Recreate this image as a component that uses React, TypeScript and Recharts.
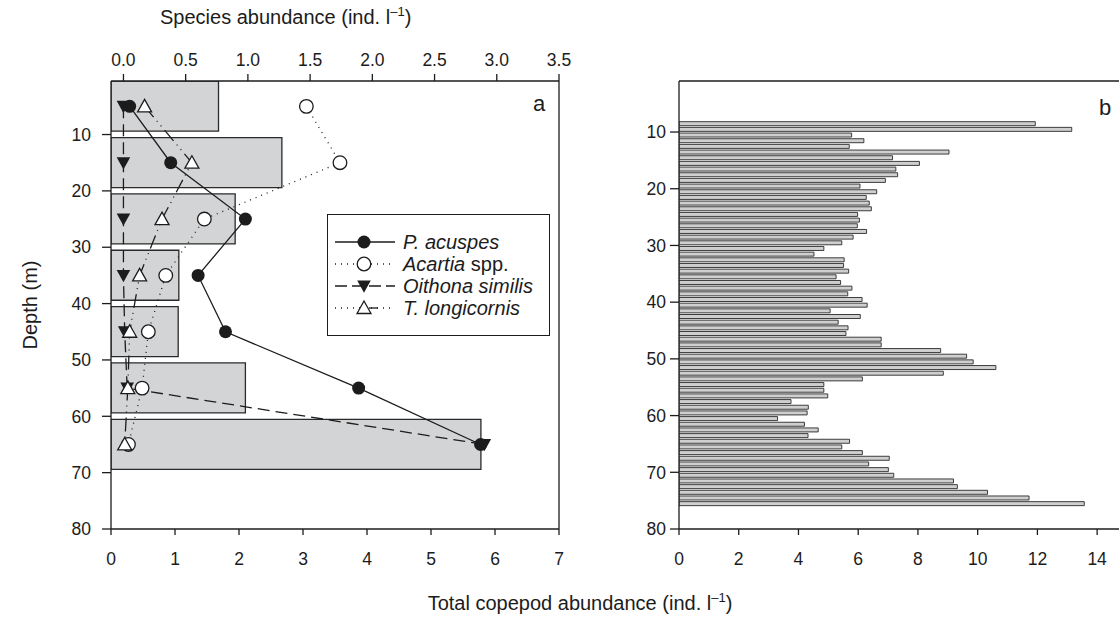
import React from "react";
import { Bar, ComposedChart, Line, ReferenceLine, XAxis, YAxis } from "recharts";

// panel a: 10 m depth bins
const binDepths = [5, 15, 25, 35, 45, 55, 65];
const totalByBin = [1.68, 2.67, 1.94, 1.06, 1.05, 2.1, 5.78];
const pAcuspes = [0.05, 0.38, 0.98, 0.6, 0.82, 1.89, 2.87];
const acartia = [1.47, 1.74, 0.65, 0.34, 0.2, 0.15, 0.04];
const oithona = [0.0, 0.0, 0.0, 0.0, 0.01, 0.03, 2.9];
const tLongicornis = [0.17, 0.55, 0.31, 0.13, 0.05, 0.035, 0.01];

// panel b: 1 m depth resolution
const fineDepths = [
  8.5, 9.5, 10.5, 11.5, 12.5, 13.5, 14.5, 15.5, 16.5, 17.5, 18.5, 19.5, 20.5, 21.5, 22.5, 23.5, 24.5,
  25.5, 26.5, 27.5, 28.5, 29.5, 30.5, 31.5, 32.5, 33.5, 34.5, 35.5, 36.5, 37.5, 38.5, 39.5, 40.5, 41.5,
  42.5, 43.5, 44.5, 45.5, 46.5, 47.5, 48.5, 49.5, 50.5, 51.5, 52.5, 53.5, 54.5, 55.5, 56.5, 57.5, 58.5,
  59.5, 60.5, 61.5, 62.5, 63.5, 64.5, 65.5, 66.5, 67.5, 68.5, 69.5, 70.5, 71.5, 72.5, 73.5, 74.5, 75.5,
];
const fineTotals = [
  11.93, 13.15, 5.78, 6.19, 5.7, 9.04, 7.15, 8.05, 7.26, 7.32, 6.91, 6.06, 6.62, 6.27, 6.37, 6.44, 5.98,
  6.04, 5.97, 6.28, 5.83, 5.45, 4.85, 4.52, 5.53, 5.51, 5.68, 5.26, 5.41, 5.79, 5.65, 6.13, 6.3, 5.06,
  6.07, 5.33, 5.66, 5.59, 6.77, 6.77, 8.76, 9.63, 9.85, 10.61, 8.85, 6.14, 4.85, 4.85, 4.98, 3.75, 4.33,
  4.29, 3.3, 4.2, 4.66, 4.32, 5.71, 5.45, 6.14, 7.04, 6.35, 7.01, 7.19, 9.19, 9.32, 10.33, 11.72, 13.57,
];

const depthTicks = [10, 20, 30, 40, 50, 60, 70, 80];
const speciesTicks = [0, 0.5, 1, 1.5, 2, 2.5, 3, 3.5];
const totalTicksA = [0, 1, 2, 3, 4, 5, 6, 7];
const totalTicksB = [0, 2, 4, 6, 8, 10, 12, 14];

const binData = binDepths.map((depth, i) => ({
  depth,
  total: totalByBin[i],
  pAcuspes: pAcuspes[i],
  acartia: acartia[i],
  oithona: oithona[i],
  tLongicornis: tLongicornis[i],
}));
const fineData = fineDepths.map((depth, i) => ({ depth, total: fineTotals[i] }));

const ink = "#1c1c1c";
const font = "'Liberation Sans', Arial, Helvetica, sans-serif";
const tickStyle = { fill: ink, fontSize: 17.5 };
const lineStyle = { stroke: ink, strokeWidth: 1.3 };

function FilledCircle({ cx, cy }: any) {
  return <circle cx={cx} cy={cy} r={6.5} fill={ink} />;
}
function OpenCircle({ cx, cy }: any) {
  return <circle cx={cx} cy={cy} r={6.8} fill="#fff" stroke={ink} strokeWidth={1.3} />;
}
function DownTriangle({ cx, cy }: any) {
  return <path d={`M${cx - 6.8},${cy - 5.5}L${cx + 6.8},${cy - 5.5}L${cx},${cy + 6.8}Z`} fill={ink} />;
}
function UpTriangle({ cx, cy }: any) {
  return (
    <path
      d={`M${cx - 7},${cy + 5.5}L${cx + 7},${cy + 5.5}L${cx},${cy - 7}Z`}
      fill="#fff"
      stroke={ink}
      strokeWidth={1.3}
    />
  );
}

const series = [
  { key: "oithona", dash: "12 6", Shape: DownTriangle },
  { key: "pAcuspes", dash: undefined, Shape: FilledCircle },
  { key: "acartia", dash: "1 5", Shape: OpenCircle },
  { key: "tLongicornis", dash: "14 5 1 5 1 5", Shape: UpTriangle },
];

const legendRows = [
  { label: <i>P. acuspes</i>, dash: undefined, Shape: FilledCircle, tick: false },
  { label: <><i>Acartia</i> spp.</>, dash: "1 5", Shape: OpenCircle, tick: false },
  { label: <i>Oithona similis</i>, dash: "12 5", Shape: DownTriangle, tick: false },
  { label: <i>T. longicornis</i>, dash: "1 5", Shape: UpTriangle, tick: true },
];

function LegendBox() {
  return (
    <div
      style={{
        position: "absolute",
        left: 327,
        top: 214,
        width: 223,
        height: 122,
        border: `1.3px solid ${ink}`,
        background: "#fff",
        boxSizing: "border-box",
        paddingTop: 16,
        fontSize: 20,
        color: ink,
      }}
    >
      {legendRows.map((row, i) => (
        <div key={i} style={{ display: "flex", alignItems: "center", height: 22 }}>
          <svg width={68} height={22} style={{ flex: "none", marginLeft: 5 }}>
            <line x1={2} y1={11} x2={62} y2={11} {...lineStyle} strokeDasharray={row.dash} />
            {row.tick && <line x1={36} x2={45} y1={11} y2={11} {...lineStyle} />}
            <row.Shape cx={31} cy={11} />
          </svg>
          <span style={{ marginLeft: 2, whiteSpace: "nowrap" }}>{row.label}</span>
        </div>
      ))}
    </div>
  );
}

function PanelA() {
  return (
    <ComposedChart
      layout="vertical"
      width={600}
      height={618}
      data={binData}
      margin={{ top: 51, right: 41, bottom: 59, left: 51 }}
    >
      <XAxis
        xAxisId="total"
        type="number"
        orientation="bottom"
        domain={[0, 7]}
        ticks={totalTicksA}
        allowDataOverflow
        height={30}
        tick={tickStyle}
        tickSize={6}
        tickMargin={18}
        axisLine={lineStyle}
        tickLine={lineStyle}
      />
      <XAxis
        xAxisId="species"
        type="number"
        orientation="top"
        domain={[-0.1, 3.5]}
        ticks={speciesTicks}
        tickFormatter={(v: number) => v.toFixed(1)}
        allowDataOverflow
        height={30}
        tick={tickStyle}
        tickSize={7}
        tickMargin={8}
        axisLine={lineStyle}
        tickLine={lineStyle}
      />
      <YAxis
        type="number"
        dataKey="depth"
        domain={[0.5, 80]}
        ticks={depthTicks}
        allowDataOverflow
        width={60}
        tick={tickStyle}
        tickSize={9}
        tickMargin={11}
        axisLine={lineStyle}
        tickLine={lineStyle}
      />
      <Bar
        xAxisId="total"
        dataKey="total"
        barSize={50}
        fill="#d3d4d6"
        stroke="#2a2a2a"
        strokeWidth={1.3}
        isAnimationActive={false}
      />
      {series.map((s) => (
        <Line
          key={s.key}
          xAxisId="species"
          dataKey={s.key}
          type="linear"
          stroke={ink}
          strokeWidth={1.3}
          strokeDasharray={s.dash}
          dot={(p: any) => <s.Shape key={`${s.key}-${p.index}`} cx={p.cx} cy={p.cy} />}
          activeDot={false}
          isAnimationActive={false}
        />
      ))}
      <ReferenceLine xAxisId="total" x={7} stroke={ink} strokeWidth={1.3} ifOverflow="visible" />
    </ComposedChart>
  );
}

function PanelB() {
  return (
    <ComposedChart
      layout="vertical"
      width={600}
      height={618}
      data={fineData}
      margin={{ top: 51, right: 73, bottom: 59, left: 19 }}
    >
      <XAxis
        xAxisId="total"
        type="number"
        orientation="bottom"
        domain={[0, 15]}
        ticks={totalTicksB}
        allowDataOverflow
        height={30}
        tick={tickStyle}
        tickSize={6}
        tickMargin={18}
        axisLine={lineStyle}
        tickLine={lineStyle}
      />
      <XAxis
        xAxisId="frame"
        type="number"
        orientation="top"
        domain={[0, 15]}
        tick={false}
        tickLine={false}
        height={30}
        axisLine={lineStyle}
      />
      <YAxis
        type="number"
        dataKey="depth"
        domain={[1, 80]}
        ticks={depthTicks}
        allowDataOverflow
        width={60}
        tick={tickStyle}
        tickSize={9}
        tickMargin={4}
        axisLine={lineStyle}
        tickLine={lineStyle}
      />
      <Bar
        xAxisId="total"
        dataKey="total"
        barSize={4}
        fill="#cfcfcf"
        stroke="#2a2a2a"
        strokeWidth={0.9}
        isAnimationActive={false}
      />
    </ComposedChart>
  );
}

export default function App() {
  return (
    <div
      style={{
        position: "absolute",
        left: 0,
        top: 0,
        width: 1119,
        height: 618,
        overflow: "hidden",
        background: "#fff",
        fontFamily: font,
        color: ink,
      }}
    >
      <div style={{ position: "absolute", left: 0, top: 0 }}>
        <PanelA />
      </div>
      <div style={{ position: "absolute", left: 600, top: 0 }}>
        <PanelB />
      </div>
      <LegendBox />
      <div style={{ position: "absolute", left: 160, top: 4, fontSize: 20, whiteSpace: "nowrap" }}>
        Species abundance (ind. l<sup style={{ fontSize: 13 }}>–1</sup>)
      </div>
      <div
        style={{
          position: "absolute",
          left: 30,
          top: 305,
          fontSize: 20,
          whiteSpace: "nowrap",
          transform: "translate(-50%, -50%) rotate(-90deg)",
        }}
      >
        Depth (m)
      </div>
      <div
        style={{
          position: "absolute",
          left: 580,
          top: 590,
          fontSize: 20,
          whiteSpace: "nowrap",
          transform: "translateX(-50%)",
        }}
      >
        Total copepod abundance (ind. l<sup style={{ fontSize: 13 }}>–1</sup>)
      </div>
      <div style={{ position: "absolute", left: 533, top: 91, fontSize: 22 }}>a</div>
      <div style={{ position: "absolute", left: 1099, top: 95, fontSize: 22 }}>b</div>
    </div>
  );
}
